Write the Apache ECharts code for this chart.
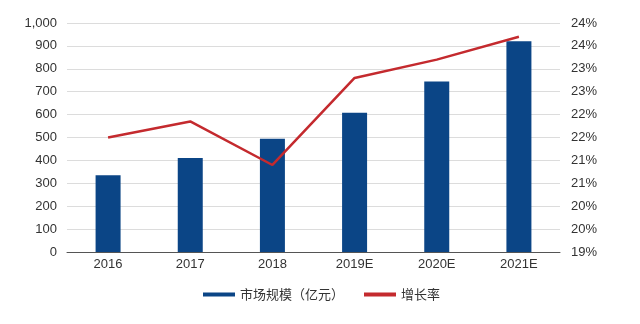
<!DOCTYPE html>
<html>
<head>
<meta charset="utf-8">
<script src="https://cdn.jsdelivr.net/npm/echarts@6/dist/echarts.min.js"></script>
<style>
  html, body { margin: 0; padding: 0; background: #fff; }
  #chart { width: 640px; height: 324px; }
</style>
</head>
<body>
<div id="chart"></div>
<script>
// Market size (100 million yuan) and yearly growth rate
const years = ['2016', '2017', '2018', '2019E', '2020E', '2021E'];
const marketSize = [335, 410, 495, 608, 745, 920];
const growthRate = [21.5, 21.85, 20.9, 22.8, 23.2, 23.7];
const sizeName = '市场规模（亿元）';
const rateName = '增长率';

const chart = echarts.init(document.getElementById('chart'));
const textFont = { color: '#333', fontSize: 13, fontFamily: 'Liberation Sans, Arial, sans-serif' };

chart.setOption({
  animation: false,
  grid: { left: 67, right: 80, top: 23, bottom: 72 },
  legend: {
    left: 198,
    top: 283,
    itemWidth: 32,
    itemHeight: 4,
    itemGap: 20,
    textStyle: { color: '#333', fontSize: 13, fontFamily: 'Noto Sans CJK SC, sans-serif' },
    data: [
      { name: sizeName, icon: 'rect' },
      { name: rateName, icon: 'rect' }
    ]
  },
  xAxis: {
    type: 'category',
    data: years,
    axisLine: { lineStyle: { color: '#555', width: 1 } },
    axisTick: { show: false },
    axisLabel: Object.assign({ margin: 6 }, textFont)
  },
  yAxis: [
    {
      type: 'value',
      min: 0,
      max: 1000,
      interval: 100,
      axisLine: { show: false },
      axisTick: { show: false },
      splitLine: { lineStyle: { color: '#dcdcdc', width: 1 } },
      axisLabel: Object.assign({
        margin: 10,
        formatter: v => v.toLocaleString('en-US')
      }, textFont)
    },
    {
      type: 'value',
      min: 19,
      max: 24,
      interval: 0.5,
      axisLine: { show: false },
      axisTick: { show: false },
      splitLine: { show: false },
      axisLabel: Object.assign({
        margin: 11,
        formatter: v => Math.round(Math.round(v * 10) / 10) + '%'
      }, textFont)
    }
  ],
  series: [
    {
      name: sizeName,
      type: 'bar',
      data: marketSize,
      barWidth: 25,
      itemStyle: { color: '#0b4586' }
    },
    {
      name: rateName,
      type: 'line',
      yAxisIndex: 1,
      data: growthRate,
      symbol: 'none',
      lineStyle: { color: '#c42a2e', width: 2.5 },
      itemStyle: { color: '#c42a2e' }
    }
  ]
});
</script>
</body>
</html>
